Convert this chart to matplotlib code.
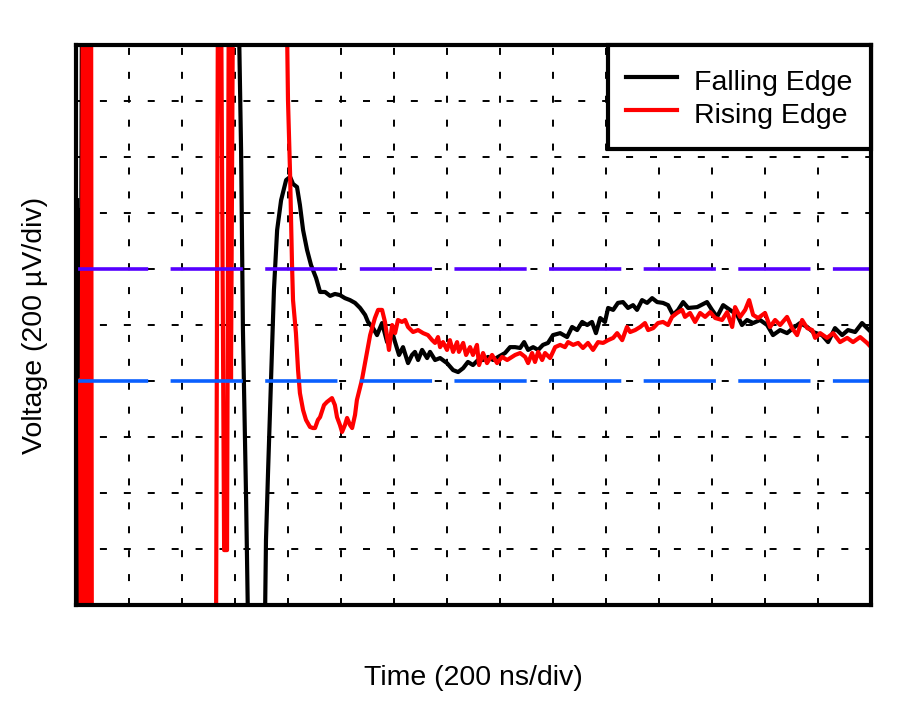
import numpy as np
import matplotlib
matplotlib.use("Agg")
import matplotlib.pyplot as plt

plt.rcParams['font.family'] = ['Liberation Sans', 'DejaVu Sans']

# time in ns (200 ns/div), voltage in uV (200 uV/div); values beyond +-1000 are off-screen
fall_t = [4, 8, 11, 15, 23, 611, 623, 630, 642, 653, 710, 717, 725, 736, 747, 759, 774, 793, 808, 819,
          834, 845, 857, 872, 887, 906, 921, 940, 959, 977,
          996, 1015, 1034, 1053, 1072, 1091, 1102, 1121, 1136, 1155, 1174, 1193, 1204, 1219, 1234, 1253,
          1268, 1279, 1291, 1306, 1325, 1336, 1355, 1374, 1400, 1423, 1442, 1461, 1479, 1498, 1517, 1536,
          1555, 1574, 1593, 1619, 1638, 1657, 1676, 1691, 1706, 1725, 1744, 1762, 1781, 1800, 1827, 1853,
          1872, 1891, 1910, 1929, 1947, 1962, 1978, 1996, 2008, 2027, 2045, 2064, 2083, 2102, 2117, 2136,
          2155, 2174, 2193, 2215, 2234, 2253, 2272, 2291, 2310, 2344, 2381, 2400, 2419, 2442, 2468, 2495,
          2513, 2532, 2555, 2581, 2608, 2630, 2657, 2683, 2706, 2732, 2759, 2781, 2815, 2838, 2864, 2891,
          2913, 2940, 2966, 2985, 3000]
fall_v = [446, -1300, 411, -1300, 1300, 1300, 625, -18, -625, -1300, -1300, -768, -518, -196, 125, 339, 446,
          518, 529, 504, 493, 429, 339, 268, 214, 168, 118, 118, 104, 111,
          107, 96, 89, 79, 61, 36, 11, -11, -36, 7, -61, -25, -61, -107, -79, -136,
          -107, -96, -125, -89, -118, -96, -125, -118, -136, -161, -168, -154, -132, -143, -125, -125,
          -114, -125, -114, -100, -79, -79, -82, -61, -89, -79, -89, -71, -64, -36, -29, -43,
          -7, -18, 11, 0, 11, -29, 25, 11, 61, 54, 79, 82, 61, 71, 54, 89,
          79, 96, 82, 79, 71, 36, 54, 82, 61, 64, 82, 54, 29, 71, 54, 36,
          0, 18, 7, 18, 0, -36, -18, -29, -11, 7, -7, -25, -36, -61, -11, -36,
          -18, -25, 7, -11, -25]

rise_t = [8, 11, 15, 19, 26, 34, 42, 49, 57, 60, 528, 536, 547, 559, 570, 577, 585, 593, 793,
          800, 808, 815, 819, 830, 838, 845, 857, 868, 883, 894, 902, 913, 921, 936, 947, 966, 977, 985,
          996, 1004, 1015, 1023, 1034, 1042, 1053, 1060,
          1079, 1110, 1128, 1140, 1155, 1166, 1181, 1193, 1204, 1215, 1230, 1242, 1253, 1272, 1291, 1310,
          1328, 1344, 1355, 1366, 1374, 1385, 1400, 1411, 1423, 1438, 1445, 1461, 1472, 1487, 1498, 1513,
          1521, 1536, 1551, 1570, 1589, 1608, 1627, 1645, 1657, 1676, 1695, 1706, 1721, 1732, 1744, 1759,
          1770, 1789, 1808, 1827, 1845, 1857, 1876, 1895, 1913, 1932, 1951, 1970, 1989, 2008, 2027, 2042,
          2061, 2079, 2091, 2110, 2129, 2147, 2159, 2178, 2196, 2215, 2234, 2249, 2268, 2287, 2298, 2317,
          2336, 2355, 2374, 2393, 2412, 2438, 2457, 2476, 2487, 2506, 2525, 2540, 2555, 2574, 2600, 2619,
          2638, 2657, 2683, 2702, 2721, 2740, 2759, 2778, 2789, 2808, 2834, 2857, 2883, 2910, 2932, 2959,
          2985, 3000]
rise_v = [-243, -268, -196, -1300, 1300, -1300, 1300, -1300, 1300, -1300, -1300, 1300, 1300, -804, -804,
          1300, -196, 1300, 1300,
          804, 536, 225, 89, -29, -161, -243, -304, -339, -364, -368, -368, -339, -329, -286, -275, -261,
          -286, -329, -357, -382, -357, -332, -357, -368, -321, -268,
          -196, -36, 25, 54, 54, 11, -89, 0, -29, 18, 11, 18, -7, -25, -18, -29,
          -36, -54, -64, -43, -79, -61, -89, -54, -96, -61, -96, -64, -107, -79, -107, -71,
          -143, -100, -136, -107, -136, -114, -125, -114, -107, -100, -114, -136, -100, -132, -96, -125,
          -100, -118, -79, -71, -79, -61, -71, -64, -82, -64, -89, -61, -64, -54, -46, -29,
          -54, -7, -25, -18, -7, 7, -18, -11, 7, 11, 0, 29, 43, 54, 29, 43,
          11, 43, 29, 46, 25, 18, 46, -7, 64, 29, 54, 89, 36, 25, 43, -7,
          18, 0, 29, -11, -36, 18, -11, -18, -46, -29, -46, -29, -61, -46, -61, -43,
          -64, -79]

upper_limit = 200
lower_limit = -200

fig = plt.figure(figsize=(8.99, 7.01), dpi=100)
ax = fig.add_axes([0.0845, 0.137, 0.8844, 0.7987])

ax.plot(fall_t, fall_v, color='black', lw=3.0, label='Falling Edge', zorder=3)
ax.plot(rise_t, rise_v, color='#ff0000', lw=3.0, label='Rising Edge', zorder=4)

ax.axhline(upper_limit, color='#5500ff', lw=2.6, ls=(0, (20, 6.2)), dash_capstyle='butt', zorder=5)
ax.axhline(lower_limit, color='#0a5fff', lw=2.6, ls=(0, (20, 6.2)), dash_capstyle='butt', zorder=5)

ax.set_xlim(0, 3000)
ax.set_ylim(-1000, 1000)
ax.set_xticks(np.arange(200, 3000, 200))
ax.set_yticks(np.arange(-800, 1000, 200))
ax.tick_params(length=0, labelbottom=False, labelleft=False)
ax.grid(True, color='black', lw=1.4, ls=(0, (3.6, 8.7)))

for s in ax.spines.values():
    s.set_linewidth(3)
    s.set_zorder(10)

ax.set_xlabel('Time (200 ns/div)', fontsize=20.5, labelpad=43)
ax.set_ylabel('Voltage (200 µV/div)', fontsize=20.5, labelpad=20)

leg = ax.legend(loc='upper right', fontsize=20.5, fancybox=False, framealpha=1,
                borderaxespad=0, borderpad=0.64, handlelength=1.8, handletextpad=0.6,
                handleheight=1.5, labelspacing=-0.06)
leg.get_frame().set_edgecolor('black')
leg.get_frame().set_linewidth(3)
leg.set_zorder(11)
for h in leg.get_lines():
    h.set_linewidth(3)

fig.savefig('out.png', dpi=100)
